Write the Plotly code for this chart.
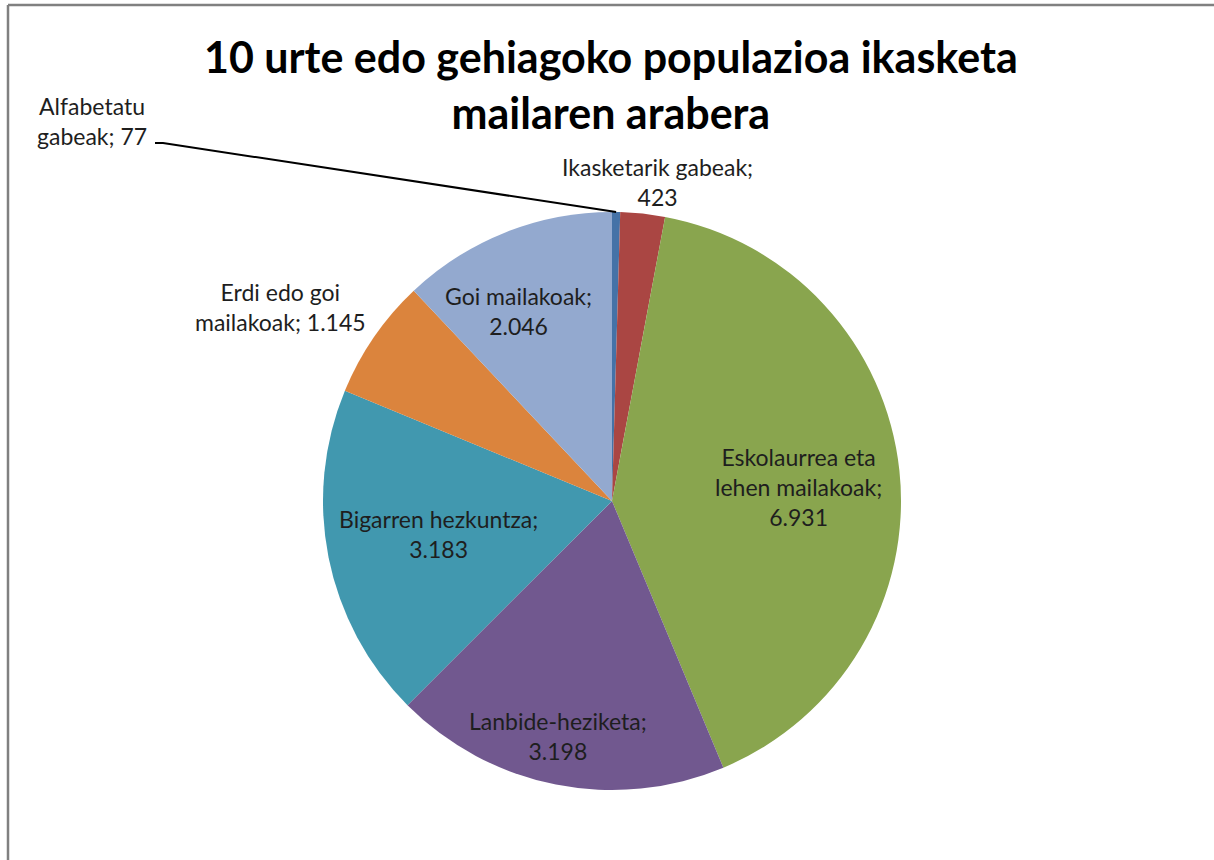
import math
import plotly.graph_objects as go

# ---- data ----
labels = [
    "Alfabetatu gabeak",
    "Ikasketarik gabeak",
    "Eskolaurrea eta lehen mailakoak",
    "Lanbide-heziketa",
    "Bigarren hezkuntza",
    "Erdi edo goi mailakoak",
    "Goi mailakoak",
]
values = [77, 423, 6931, 3198, 3183, 1145, 2046]
label_texts = [
    "Alfabetatu<br>gabeak; 77",
    "Ikasketarik gabeak;<br>423",
    "Eskolaurrea eta<br>lehen mailakoak;<br>6.931",
    "Lanbide-heziketa;<br>3.198",
    "Bigarren hezkuntza;<br>3.183",
    "Erdi edo goi<br>mailakoak; 1.145",
    "Goi mailakoak;<br>2.046",
]
colors = ["#4572A7", "#AA4643", "#89A54E", "#71588F", "#4198AF", "#DB843D", "#93A9CF"]

# ---- layout geometry (pixels) ----
W, H = 1214, 860
cx, cy, r = 612, 501, 289
# label centers in pixels
label_pos = [(92, 121), (657, 182), (798, 487), (558, 736), (438, 534), (280, 307), (518, 311)]

def px(x):
    return x / W

def py(y):
    return 1 - y / H

fig = go.Figure()
fig.add_trace(go.Pie(
    labels=labels,
    values=values,
    sort=False,
    direction="clockwise",
    rotation=0,
    textinfo="none",
    hoverinfo="label+value",
    marker=dict(colors=colors, line=dict(width=0)),
    domain=dict(x=[px(cx - r), px(cx + r)], y=[py(cy + r), py(cy - r)]),
    showlegend=False,
))

annotations = []
for t, (x, y) in zip(label_texts, label_pos):
    annotations.append(dict(
        x=px(x), y=py(y), xref="paper", yref="paper",
        text=t, showarrow=False, xanchor="center", yanchor="middle",
        align="center", font=dict(family="Lato", size=23, color="#1e1e1e"),
    ))

# title
annotations.append(dict(
    x=px(611), y=py(84), xref="paper", yref="paper",
    text="<b>10 urte edo gehiagoko populazioa ikasketa<br>mailaren arabera</b>",
    showarrow=False, xanchor="center", yanchor="middle", align="center",
    font=dict(family="Lato", size=43, color="#000000"),
))

# leader line for the tiny first slice
total = sum(values)
mid = (values[0] / 2) / total * 2 * math.pi
ex, ey = cx + r * math.sin(mid), cy - r * math.cos(mid)
shapes = [
    dict(type="path", xref="paper", yref="paper",
         path=f"M {px(155)} {py(143)} L {px(163)} {py(143)} L {px(ex)} {py(ey)}",
         line=dict(color="#000000", width=2)),
    # chart frame (top and left edges visible)
    dict(type="line", xref="paper", yref="paper", x0=px(8), y0=py(5), x1=1.01, y1=py(5),
         line=dict(color="#808080", width=2.5)),
    dict(type="line", xref="paper", yref="paper", x0=px(8), y0=py(5), x1=px(8), y1=-0.01,
         line=dict(color="#808080", width=2.5)),
]

fig.update_layout(
    width=W, height=H,
    margin=dict(l=0, r=0, t=0, b=0),
    paper_bgcolor="white",
    plot_bgcolor="white",
    annotations=annotations,
    shapes=shapes,
)

fig.write_html(
    "out.html",
    config={"displayModeBar": False},
    post_script="document.body.style.margin='0';document.body.style.overflow='hidden';",
)
